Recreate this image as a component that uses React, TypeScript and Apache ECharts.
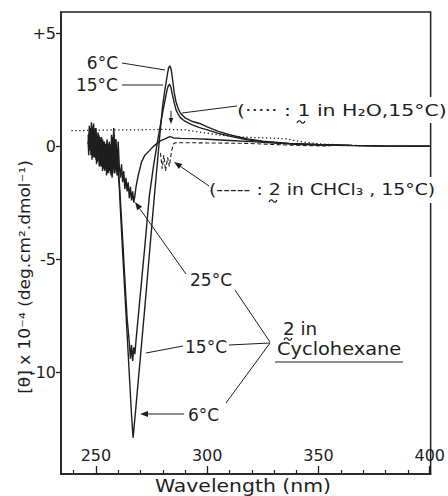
import React, { useEffect, useRef } from "react";
import * as echarts from "echarts";

// ---- data (wavelength nm, [θ] x 10^-4) ----
const cyclohexane6C: [number, number][] = [
  [246.5, 0.2], [246.75, -0.4], [247, 0.9], [247.25, 0.3], [247.5, -0.1], [247.75, 0.6], [248, 0.7], [248.25, -0.6],
  [248.5, 0.1], [248.75, 0.5], [249, 1.0], [249.25, -0.5], [249.5, -0.2], [249.75, 0.8], [250, 0.5], [250.25, -0.8],
  [250.5, -0.4], [250.75, 0.3], [251, 0.6], [251.25, -0.2], [251.5, -0.6], [251.75, 0.4], [252, 0.2], [252.25, -0.5],
  [252.5, -0.9], [252.75, 0.1], [253, 0.3], [253.25, -1.0], [253.5, -0.5], [253.75, 0.2], [254, -1.0], [254.25, -0.6],
  [254.5, 0.1], [254.75, -1.3], [255, -0.7], [255.25, 0.0], [255.5, -1.2], [255.75, -0.4], [256, 0.2], [256.25, -1.0],
  [256.5, -0.8], [256.75, 0.1], [257, -0.3], [257.25, -1.4], [257.5, -1.1], [257.75, -0.2], [258, 0.6], [258.25, -1.2],
  [258.5, -0.9], [258.75, 0.3], [259, -0.2], [259.25, -1.0], [259.5, -1.3], [259.75, -0.4], [260, -1.2], [260.5, -1.8],
  [261, -2.8], [262, -4.7], [263, -6.5], [264, -8.3], [265, -10.1], [266, -11.9], [266.7, -12.9], [268, -11.5],
  [270, -9.3], [272, -7.1], [274, -4.8], [276, -2.5], [277, -1.4], [278, -0.3], [279, 0.8], [280, 1.8],
  [281, 2.5], [282, 3.1], [282.6, 3.45], [283.2, 3.55], [283.8, 3.4], [284.5, 2.9], [285.2, 2.35], [286, 1.95],
  [287, 1.65], [288, 1.45], [290, 1.25], [293, 1.1], [296.6, 1.0], [300, 0.85], [305, 0.65], [310, 0.5],
  [318, 0.32], [325, 0.22], [337, 0.12], [350, 0.07], [365, 0.03], [377, 0.01], [400, 0],
];

const cyclohexane15C: [number, number][] = [
  [246.5, 0.5], [246.75, 0.0], [247, -0.2], [247.25, 0.6], [247.5, 0.8], [247.75, -0.4], [248, -0.3], [248.25, 0.9],
  [248.5, 0.6], [248.75, -0.5], [249, 0.0], [249.25, 0.4], [249.5, 0.7], [249.75, -0.3], [250, -0.6], [250.25, 0.6],
  [250.5, 0.3], [250.75, -0.7], [251, -0.3], [251.25, 0.5], [251.5, 0.4], [251.75, -0.9], [252, -0.8], [252.25, 0.3],
  [252.5, 0.0], [252.75, -0.6], [253, -1.1], [253.25, -0.2], [253.5, 0.2], [253.75, -0.8], [254, -0.4], [254.25, 0.1],
  [254.5, -1.0], [254.75, -0.3], [255, 0.3], [255.25, -1.2], [255.5, -0.5], [255.75, 0.1], [256, -1.1], [256.25, -0.6],
  [256.5, 0.0], [256.75, -1.3], [257, -0.9], [257.25, -0.2], [257.5, 0.4], [257.75, -1.0], [258, -0.6], [258.25, 0.2],
  [258.5, -1.2], [258.75, -0.4], [259, 0.1], [259.25, -1.1], [259.5, -0.7], [259.75, -0.2], [260, -0.9], [260.5, -1.6],
  [261, -2.4], [262, -4.1], [263, -5.9], [264, -7.6], [265, -8.7], [265.5, -9.4], [266, -8.8], [266.5, -9.5],
  [267, -8.9], [267.5, -9.2], [268, -8.6], [270, -6.5], [272, -4.4], [274, -2.2], [276, -0.8], [278, 0.4],
  [280, 1.5], [281, 2.0], [282, 2.5], [282.6, 2.68], [283.1, 2.73], [283.7, 2.6], [284.4, 2.25], [285.2, 1.9],
  [286, 1.6], [287, 1.4], [288, 1.25], [290, 1.1], [293, 0.95], [296.6, 0.82], [300, 0.72], [305, 0.56],
  [310, 0.44], [318, 0.28], [325, 0.2], [337, 0.11], [350, 0.06], [365, 0.03], [377, 0.01], [400, 0],
];

const cyclohexane25C: [number, number][] = [
  [246.5, 0.1], [247, 0.6], [247.5, 0.3], [248, 1.05], [248.5, -0.1], [249, 0.5], [249.5, 0.2], [250, 0.8],
  [250.5, -0.2], [251, 0.1], [251.5, -0.9], [252, -0.3], [252.5, 0.4], [253, -0.7], [253.5, -0.2], [254, -1.1],
  [254.5, -0.3], [255, 0.2], [255.5, -0.9], [256, -0.4], [256.5, -1.2], [257, 0.5], [257.5, -0.5], [258, 0.8],
  [258.5, -0.4], [259, 0.3], [259.5, -0.8], [260, 0.2], [260.5, -0.9], [261, -1.4], [261.5, -0.8], [262, -1.6],
  [262.5, -1.1], [263, -1.9], [263.5, -1.4], [264, -2.0], [264.5, -1.6], [265, -2.3], [265.5, -1.8], [266, -2.4],
  [266.5, -2.0], [267, -2.5], [267.5, -2.2], [268, -1.8], [269, -1.3], [270.5, -0.7], [272, -0.4], [274, -0.2],
  [276, 0.0], [278.7, 0.22], [281, 0.32], [283.2, 0.42], [285, 0.36], [288, 0.34], [293.5, 0.33], [300, 0.3],
  [310, 0.25], [320, 0.2], [330, 0.13], [340, 0.08], [350, 0.05], [365, 0.02], [380, 0], [400, 0],
];

const h2o15C: [number, number][] = [
  [239, 0.68], [250, 0.7], [260, 0.72], [270, 0.72], [280, 0.74], [290, 0.72], [298, 0.6], [305, 0.5],
  [312, 0.42], [320, 0.38], [330, 0.35], [336, 0.32], [342, 0.2], [350, 0.1], [360, 0.05], [370, 0.02], [380, 0],
];

const chcl315C: [number, number][] = [
  [279, -0.3], [279.8, -1.0], [280.5, -0.4], [281.3, -1.1], [282.2, -0.5], [283, -0.9], [284, -0.2], [285, 0.12],
  [286, 0.15], [290, 0.15], [300, 0.14], [310, 0.13], [318, 0.12], [325, 0.09], [335, 0.05], [345, 0.02], [355, 0],
];

const xMajorTicks = [250, 300, 350, 400];
const xMinorTicks = [240, 260, 270, 280, 290, 310, 320, 330, 340, 360, 370, 380, 390];
const yTicks = [-10, -5, 0, 5];

const INK = "#1e1e1e";
const FONT = "DejaVu Sans";

function line(x1: number, y1: number, x2: number, y2: number) {
  return { type: "line", z: 100, shape: { x1, y1, x2, y2 }, style: { stroke: INK, lineWidth: 1 } };
}

function tilde(cx: number, cy: number) {
  return {
    type: "polyline",
    z: 110,
    shape: {
      points: [[cx - 4, cy + 1], [cx - 2.5, cy - 1], [cx - 1, cy - 1], [cx + 1, cy + 1], [cx + 2.5, cy + 1], [cx + 4, cy - 1]],
      smooth: 0.4,
    },
    style: { stroke: INK, lineWidth: 1.2, fill: "none" },
  };
}

function arrow(x1: number, y1: number, x2: number, y2: number, size = 7) {
  const a = Math.atan2(y2 - y1, x2 - x1);
  const w = size * 0.38;
  const bx = x2 - size * Math.cos(a);
  const by = y2 - size * Math.sin(a);
  const px = -Math.sin(a) * w;
  const py = Math.cos(a) * w;
  return [
    line(x1, y1, bx, by),
    {
      type: "polygon",
      z: 100,
      shape: { points: [[x2, y2], [bx + px, by + py], [bx - px, by - py]] },
      style: { fill: INK },
    },
  ];
}

function text(x: number, y: number, t: string, align = "left", size = 17, sx = 1, extra: any = {}) {
  return {
    type: "text",
    z: 101,
    x,
    y,
    scaleX: sx,
    style: { text: t, fontSize: size, fontFamily: FONT, fill: INK, align, verticalAlign: "middle", ...extra },
  };
}

export default function App() {
  const ref = useRef<HTMLDivElement>(null);

  useEffect(() => {
    if (!ref.current) return;
    const chart = echarts.init(ref.current, undefined, { renderer: "svg" });
    const gridRect = { left: 61, top: 12, right: 17, bottom: 22 };
    const axisLineStyle = { color: INK, width: 1.5 };

    const mk = (name: string, data: [number, number][], type: any = "solid", width = 1.4) => ({
      name,
      type: "line",
      xAxisIndex: 0,
      yAxisIndex: 0,
      data,
      showSymbol: false,
      symbol: "none",
      lineStyle: { color: INK, width, type },
      z: 5,
    });

    const option: any = {
      animation: false,
      backgroundColor: "#ffffff",
      grid: [
        { ...gridRect, show: true, borderColor: INK, borderWidth: 1.5 },
        { ...gridRect, show: false },
      ],
      xAxis: [
        {
          gridIndex: 0,
          type: "value",
          min: 234.3,
          max: 400.4,
          axisLine: { show: true, onZero: false, lineStyle: axisLineStyle },
          axisTick: { show: true, inside: true, length: 8, customValues: xMajorTicks, lineStyle: { color: INK, width: 1.3 } },
          axisLabel: {
            inside: true,
            customValues: xMajorTicks,
            margin: 11,
            fontSize: 16,
            fontFamily: FONT,
            color: INK,
          },
          splitLine: { show: false },
        },
        {
          gridIndex: 1,
          type: "value",
          min: 234.3,
          max: 400.4,
          axisLine: { show: false, onZero: false },
          axisTick: { show: true, inside: true, length: 4, customValues: xMinorTicks, lineStyle: { color: INK, width: 1.2 } },
          axisLabel: { show: false },
          splitLine: { show: false },
        },
      ],
      yAxis: [
        {
          gridIndex: 0,
          type: "value",
          min: -14.5,
          max: 5.93,
          axisLine: { show: true, onZero: false, lineStyle: axisLineStyle },
          axisTick: { show: true, length: 5, customValues: yTicks, lineStyle: { color: INK, width: 1.3 } },
          axisLabel: {
            customValues: yTicks,
            margin: 5,
            fontSize: 16,
            fontFamily: FONT,
            color: INK,
            formatter: (v: number) => (v > 0 ? "+" + v : String(v)),
          },
          splitLine: { show: false },
        },
        { gridIndex: 1, type: "value", min: -14.5, max: 5.93, show: false },
      ],
      series: [
        mk("2 in Cyclohexane, 6°C", cyclohexane6C),
        mk("2 in Cyclohexane, 15°C", cyclohexane15C),
        mk("2 in Cyclohexane, 25°C", cyclohexane25C),
        mk("1 in H2O, 15°C", h2o15C, [1.3, 2.6], 1.3),
        mk("2 in CHCl3, 15°C", chcl315C, [4, 2.5], 1.1),
      ],
      graphic: {
        elements: [
          // axis titles
          {
            type: "text",
            z: 101,
            x: 25,
            y: 277,
            rotation: Math.PI / 2,
            scaleX: 1.06,
            style: {
              text: "[θ] x 10⁻⁴ (deg.cm².dmol⁻¹)",
              fontSize: 16,
              fontFamily: FONT,
              fill: INK,
              align: "center",
              verticalAlign: "middle",
            },
          },
          text(243, 486, "Wavelength (nm)", "center", 17, 1.2),
          // peak labels
          text(118, 63, "6°C", "right"),
          line(122, 63, 165, 70),
          text(118, 85, "15°C", "right"),
          line(122, 85, 163, 85),
          ...arrow(171, 111, 171, 124, 6),
          // H2O label
          line(182, 113, 237, 106),
          text(237, 110, "(····· : 1 in H₂O,15°C)", "left", 16, 1.28, { backgroundColor: "#fff", padding: [5, 0, 5, 0] }),
          tilde(301, 122),
          // CHCl3 label
          ...arrow(209, 186, 174, 162, 8),
          text(209, 190, "(----- : 2 in CHCl₃ , 15°C)", "left", 16, 1.18, { backgroundColor: "#fff", padding: [5, 2, 5, 0] }),
          tilde(273, 201),
          // temperature labels for cyclohexane
          text(190, 280, "25°C"),
          ...arrow(186, 274, 135, 202, 8),
          line(235, 290, 270, 342),
          text(185, 347, "15°C"),
          line(183, 346, 146, 353),
          line(229, 345, 270, 343),
          text(188, 415, "6°C"),
          ...arrow(184, 414, 140, 414, 8),
          line(226, 403, 270, 343),
          text(283, 329, "2 in", "left", 17, 1.08),
          tilde(288, 339),
          text(277, 349, "Cyclohexane", "left", 17, 1.14),
          line(275, 362, 403, 362),
        ],
      },
    };

    chart.setOption(option);
    return () => chart.dispose();
  }, []);

  return (
    <div
      ref={ref}
      style={{ position: "absolute", left: 0, top: 0, width: 448, height: 496, background: "#fff" }}
    />
  );
}
